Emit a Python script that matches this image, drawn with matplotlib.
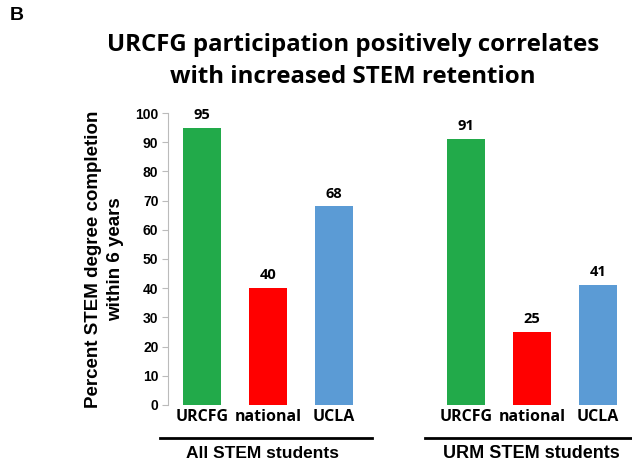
import matplotlib
matplotlib.use("Agg")
import matplotlib.pyplot as plt
from matplotlib.lines import Line2D

categories = ["URCFG", "national", "UCLA"]
groups = ["All STEM students", "URM STEM students"]
all_stem = [95, 40, 68]
urm_stem = [91, 25, 41]
colors = ["#22AA4A", "#FF0000", "#5B9BD5"]
yticks = [0, 10, 20, 30, 40, 50, 60, 70, 80, 90, 100]

plt.rcParams['font.family'] = ['Liberation Sans', 'DejaVu Sans']

fig = plt.figure(figsize=(6.32, 4.62), dpi=100)
ax = fig.add_axes([0.266, 0.1234, 0.734, 0.632])

pos1 = [0, 1, 2]
pos2 = [4, 5, 6]
b1 = ax.bar(pos1, all_stem, width=0.58, color=colors)
b2 = ax.bar(pos2, urm_stem, width=0.58, color=colors)
for bars, vals in ((b1, all_stem), (b2, urm_stem)):
    for r, v in zip(bars, vals):
        ax.text(r.get_x() + r.get_width() / 2, v + 2, str(v), ha='center', va='bottom',
                fontsize=10.5, fontweight='bold', family=['Open Sans', 'DejaVu Sans'])

ax.set_xlim(-0.515, 6.515)
ax.set_ylim(0, 100)
ax.set_yticks(yticks)
ax.set_yticklabels([str(t) for t in yticks], fontsize=10, fontweight='bold')
ax.set_xticks(pos1 + pos2)
ax.set_xticklabels(categories + categories, fontsize=11.5, fontweight='bold',
                   family=['Open Sans', 'DejaVu Sans'])
ax.tick_params(axis='x', length=0, pad=3)
ax.tick_params(axis='y', length=4, color='#BBBBBB', pad=3)
for s in ['top', 'right', 'bottom']:
    ax.spines[s].set_visible(False)
ax.spines['left'].set_color('#BBBBBB')

ax.set_ylabel("Percent STEM degree completion\nwithin 6 years", fontsize=13.5,
              fontweight='bold', labelpad=8, linespacing=1.4)

# group underlines and labels
fig.add_artist(Line2D([160/632, 372/632], [1-438/462, 1-438/462], color='black', lw=2))
fig.add_artist(Line2D([425/632, 1.0], [1-438/462, 1-438/462], color='black', lw=2))
fig.text(262/632, 1-453/462, groups[0], ha='center', va='center', fontsize=12.5, fontweight='bold')
fig.text(531/632, 1-453/462, groups[1], ha='center', va='center', fontsize=13, fontweight='bold')

fig.text(10/632, 1-16/462, "B", ha='left', va='center', fontsize=14, fontweight='bold')
fig.text(353/632, 1-61/462, "URCFG participation positively correlates\nwith increased STEM retention",
         ha='center', va='center', fontsize=17.3, fontweight='bold', linespacing=1.42,
         family=['Open Sans', 'DejaVu Sans'])

fig.savefig("out.png", dpi=100)
